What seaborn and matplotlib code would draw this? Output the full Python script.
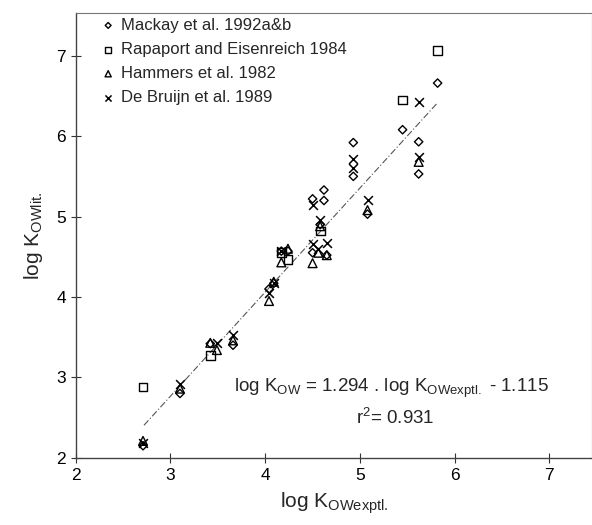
import matplotlib
matplotlib.use("Agg")
import matplotlib.pyplot as plt
import seaborn as sns

sns.set_theme(style="white")
plt.rcParams["font.family"] = ["Liberation Sans", "DejaVu Sans"]
plt.rcParams["mathtext.default"] = "regular"

mackay_x = [2.71, 3.10, 3.42, 3.66, 4.04, 4.09, 4.17, 4.24, 4.50, 4.62, 4.62,
            4.58, 4.50, 4.65, 4.93, 4.93, 5.08, 5.45, 5.62, 5.62, 5.82]
mackay_y = [2.15, 2.80, 3.42, 3.40, 4.10, 4.17, 4.57, 4.57, 5.22, 5.33, 5.20,
            4.90, 4.55, 4.52, 5.92, 5.50, 5.03, 6.08, 5.93, 5.53, 6.66]

rapaport_x = [2.71, 3.42, 4.17, 4.24, 4.58, 5.45, 5.82]
rapaport_y = [2.88, 3.27, 4.55, 4.47, 4.82, 6.45, 7.07]

hammers_x = [2.71, 3.10, 3.42, 3.49, 3.66, 4.04, 4.09, 4.17, 4.24, 4.58,
             4.50, 4.56, 4.65, 5.08, 5.62]
hammers_y = [2.21, 2.86, 3.43, 3.34, 3.46, 3.95, 4.19, 4.43, 4.60, 4.88,
             4.42, 4.55, 4.52, 5.08, 5.68]

debruijn_x = [2.71, 3.10, 3.49, 3.66, 4.04, 4.09, 4.17, 4.50, 4.58, 4.50,
              4.56, 4.65, 4.93, 4.93, 5.08, 5.62, 5.62]
debruijn_y = [2.19, 2.92, 3.43, 3.53, 4.05, 4.18, 4.57, 5.15, 4.96, 4.66,
              4.60, 4.67, 5.72, 5.60, 5.20, 6.43, 5.74]

# regression reported on the chart
SLOPE, INTERCEPT = 1.294, -1.115
FIT_RANGE = [2.72, 5.82]

fig = plt.figure(figsize=(5.92, 5.25), dpi=100)
ax = fig.add_axes([0.128, 0.128, 0.872, 0.847])

ax.plot(FIT_RANGE, [SLOPE * v + INTERCEPT for v in FIT_RANGE],
        ls=(0, (6, 2, 1, 2)), lw=0.8, color="#555555", zorder=1)

sns.scatterplot(x=mackay_x, y=mackay_y, marker="D", s=18, facecolor="none",
                edgecolor="black", linewidth=1.0, label="Mackay et al. 1992a&b", ax=ax)
sns.scatterplot(x=rapaport_x, y=rapaport_y, marker="s", s=40, facecolor="none",
                edgecolor="black", linewidth=1.0, label="Rapaport and Eisenreich 1984", ax=ax)
sns.scatterplot(x=hammers_x, y=hammers_y, marker="^", s=40, facecolor="none",
                edgecolor="black", linewidth=1.0, label="Hammers et al. 1982", ax=ax)
sns.scatterplot(x=debruijn_x, y=debruijn_y, marker="x", s=40, color="black",
                linewidth=1.1, label="De Bruijn et al. 1989", ax=ax)

ax.set_xlim(2, 7.45)
ax.set_ylim(2, 7.53)
ax.set_xticks([2, 3, 4, 5, 6, 7])
ax.set_yticks([2, 3, 4, 5, 6, 7])
ax.tick_params(direction="inout", length=7, width=0.8, labelsize=12.5,
               colors="#333333", labelcolor="black", bottom=True, left=True)

for side in ["left", "bottom"]:
    ax.spines[side].set_color("#444444")
    ax.spines[side].set_linewidth(1.0)
for side in ["top", "right"]:
    ax.spines[side].set_color("#777777")
    ax.spines[side].set_linewidth(0.8)
    ax.spines[side].set_linestyle((0, (3, 1)))

ax.set_xlabel("log K$_{OWexptl.}$", fontsize=15, labelpad=6)
ax.set_ylabel("log K$_{OWlit.}$", fontsize=15, labelpad=8)

ax.text(0.612, 0.157, "log K$_{OW}$ = 1.294 . log K$_{OWexptl.}$ - 1.115",
        transform=ax.transAxes, ha="center", va="center", fontsize=13.5)
ax.text(0.618, 0.09, "r$^{2}$= 0.931", transform=ax.transAxes,
        ha="center", va="center", fontsize=13.5)

ax.legend(loc="upper left", bbox_to_anchor=(0.024, 1.012), frameon=False,
          fontsize=12, handletextpad=0.15, handlelength=1.2,
          labelspacing=0.55, markerscale=0.7, borderaxespad=0.2)

fig.savefig("out.png", dpi=100, facecolor="white")
